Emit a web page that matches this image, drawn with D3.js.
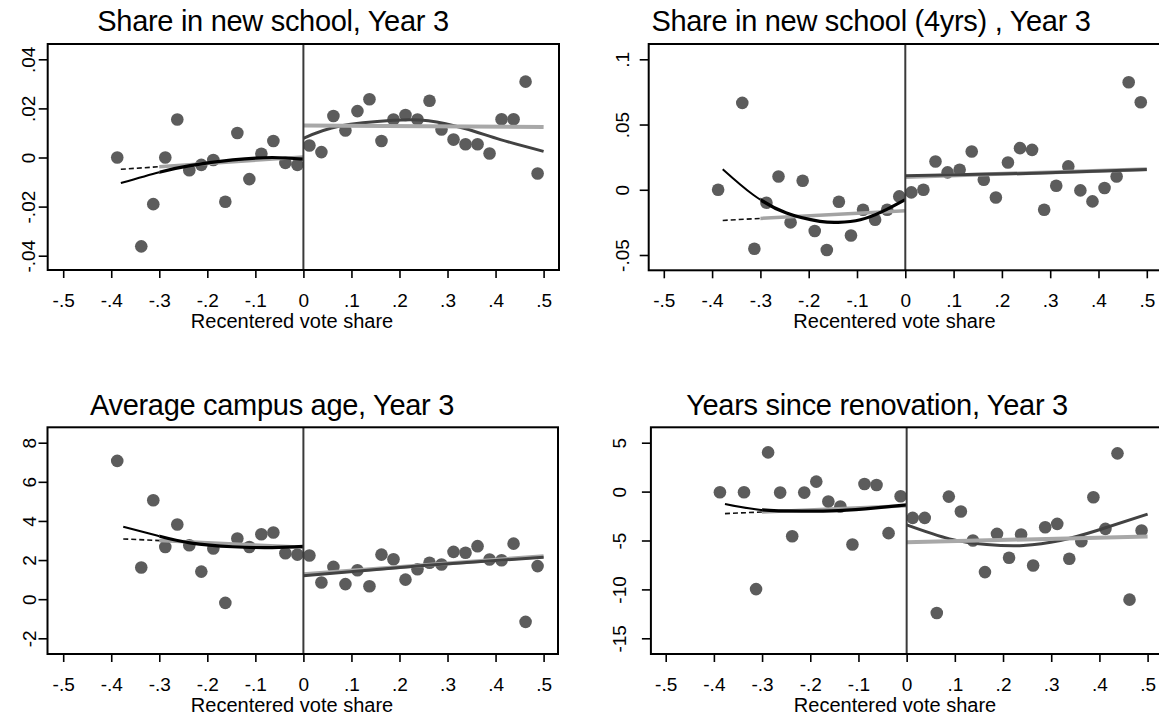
<!DOCTYPE html>
<html>
<head>
<meta charset="utf-8">
<script src="https://cdnjs.cloudflare.com/ajax/libs/d3/7.8.5/d3.min.js"></script>
<style>
body { margin: 0; background: #fff; }
svg { display: block; }
text { font-family: "Liberation Sans", Arial, sans-serif; fill: #000; }
</style>
</head>
<body>
<svg id="chart" width="1159" height="719"></svg>
<script>
// bin midpoints, same bins in every panel
const binX = [-0.3875, -0.3375, -0.3125, -0.2875, -0.2625, -0.2375, -0.2125, -0.1875, -0.1625, -0.1375, -0.1125, -0.0875, -0.0625, -0.0375, -0.0125,
  0.0125, 0.0375, 0.0625, 0.0875, 0.1125, 0.1375, 0.1625, 0.1875, 0.2125, 0.2375, 0.2625, 0.2875, 0.3125, 0.3375, 0.3625, 0.3875, 0.4125, 0.4375, 0.4625, 0.4875];
const xTicks = [-0.5, -0.4, -0.3, -0.2, -0.1, 0, 0.1, 0.2, 0.3, 0.4, 0.5];
const xTickLabels = ["-.5", "-.4", "-.3", "-.2", "-.1", "0", ".1", ".2", ".3", ".4", ".5"];
const xAxisTitle = "Recentered vote share";

// panel 1: share in new school
const newSchoolY = [0, -0.0362, -0.019, 0, 0.0155, -0.0052, -0.003, -0.001, -0.018, 0.010, -0.0088, 0.0015, 0.0067, -0.0022, -0.003,
  0.0049, 0.0022, 0.0169, 0.011, 0.0189, 0.0237, 0.0067, 0.0155, 0.0173, 0.0155, 0.0231, 0.0114, 0.0073, 0.0054, 0.0054, 0.0016, 0.0156, 0.0156, 0.0309, -0.0065];
const newSchoolTicks = [-0.04, -0.02, 0, 0.02, 0.04];
const newSchoolTickLabels = ["-.04", "-.02", "0", ".02", ".04"];
const newSchoolQuadLX = [-0.38, -0.3, -0.236, -0.147, -0.065, 0];
const newSchoolQuadLY = [-0.0104, -0.006, -0.0033, -0.001, 0.0, -0.0007];
const newSchoolLinLX = [-0.38, 0];
const newSchoolLinLY = [-0.0048, 0.0002];
const newSchoolQuadRX = [0, 0.076, 0.187, 0.26, 0.336, 0.41, 0.5];
const newSchoolQuadRY = [0.0078, 0.0128, 0.0152, 0.015, 0.0118, 0.0073, 0.0025];
const newSchoolLinRX = [0, 0.5];
const newSchoolLinRY = [0.013, 0.0124];

// panel 2: share in new school (4yrs)
const newSchool4Y = [0, 0.0666, -0.0452, -0.010, 0.0102, -0.025, 0.0069, -0.0316, -0.0462, -0.0092, -0.035, -0.0153, -0.023, -0.0153, -0.0051,
  -0.002, 0, 0.0217, 0.0133, 0.0153, 0.0293, 0.0077, -0.0059, 0.0209, 0.0319, 0.0306, -0.0153, 0.0031, 0.0179, -0.0005, -0.0089, 0.0013, 0.0102, 0.0824, 0.0671];
const newSchool4Ticks = [-0.05, 0, 0.05, 0.1];
const newSchool4TickLabels = ["-.05", "0", ".05", ".1"];
const newSchool4QuadLX = [-0.378, -0.315, -0.246, -0.177, -0.139, -0.093, -0.047, 0];
const newSchool4QuadLY = [0.0158, -0.0038, -0.0179, -0.0242, -0.025, -0.023, -0.0166, -0.0075];
const newSchool4LinLX = [-0.378, 0];
const newSchool4LinLY = [-0.0235, -0.016];
const newSchool4QuadRX = [0, 0.25, 0.5];
const newSchool4QuadRY = [0.0108, 0.0125, 0.0155];
const newSchool4LinRX = [0, 0.5];
const newSchool4LinRY = [0.0098, 0.0158];

// panel 3: average campus age
const campusAgeY = [7.07, 1.62, 5.06, 2.67, 3.82, 2.76, 1.41, 2.59, -0.19, 3.10, 2.67, 3.32, 3.41, 2.35, 2.28,
  2.23, 0.85, 1.65, 0.77, 1.48, 0.66, 2.28, 2.04, 1.0, 1.53, 1.86, 1.77, 2.42, 2.37, 2.71, 2.03, 1.99, 2.84, -1.16, 1.69];
const campusAgeTicks = [-2, 0, 2, 4, 6, 8];
const campusAgeTickLabels = ["-2", "0", "2", "4", "6", "8"];
const campusAgeQuadLX = [-0.375, -0.303, -0.236, -0.147, -0.065, 0];
const campusAgeQuadLY = [3.7, 3.24, 2.88, 2.68, 2.64, 2.7];
const campusAgeLinLX = [-0.375, 0];
const campusAgeLinLY = [3.08, 2.66];
const campusAgeQuadRX = [0, 0.25, 0.5];
const campusAgeQuadRY = [1.2, 1.72, 2.14];
const campusAgeLinRX = [0, 0.5];
const campusAgeLinRY = [1.28, 2.2];

// panel 4: years since renovation
const renovationY = [-0.07, -0.07, -9.97, 4.01, -0.1, -4.56, -0.1, 1.02, -1.02, -1.53, -5.41, 0.78, 0.68, -4.25, -0.48,
  -2.69, -2.69, -12.41, -0.51, -2.04, -5.0, -8.23, -4.32, -6.77, -4.39, -7.55, -3.64, -3.30, -6.87, -5.07, -0.58, -3.81, 3.91, -11.05, -3.98];
const renovationTicks = [-15, -10, -5, 0, 5];
const renovationTickLabels = ["-15", "-10", "-5", "0", "5"];
const renovationQuadLX = [-0.377, -0.302, -0.218, -0.141, -0.064, 0];
const renovationQuadLY = [-1.26, -1.87, -2.0, -1.94, -1.67, -1.36];
const renovationLinLX = [-0.377, 0];
const renovationLinLY = [-2.25, -1.45];
const renovationQuadRX = [0, 0.089, 0.166, 0.242, 0.319, 0.395, 0.5];
const renovationQuadRY = [-3.4, -4.83, -5.41, -5.51, -5.0, -3.98, -2.3];
const renovationLinRX = [0, 0.5];
const renovationLinRY = [-5.17, -4.6];

const panels = [
  { title: "Share in new school, Year 3", y: newSchoolY, ticks: newSchoolTicks, tickLabels: newSchoolTickLabels,
    quadL: [newSchoolQuadLX, newSchoolQuadLY], linL: [newSchoolLinLX, newSchoolLinLY],
    quadR: [newSchoolQuadRX, newSchoolQuadRY], linR: [newSchoolLinRX, newSchoolLinRY], linOnTop: true,
    x0: 63.2, x1: 543.6, boxL: 47.7, boxR: 559, boxT: 44, boxB: 270, yTop: 59.3, yBot: 255.7,
    titleX: 273, titleY: 31, axisTitleX: 292, yLabX: 35 },
  { title: "Share in new school (4yrs) , Year 3", y: newSchool4Y, ticks: newSchool4Ticks, tickLabels: newSchool4TickLabels,
    quadL: [newSchool4QuadLX, newSchool4QuadLY], linL: [newSchool4LinLX, newSchool4LinLY],
    quadR: [newSchool4QuadRX, newSchool4QuadRY], linR: [newSchool4LinRX, newSchool4LinRY], linOnTop: false,
    x0: 663.8, x1: 1146.8, boxL: 648.7, boxR: 1163, boxT: 44, boxB: 270.3, yTop: 59.3, yBot: 255,
    titleX: 871, titleY: 31, axisTitleX: 894.5, yLabX: 629 },
  { title: "Average campus age, Year 3", y: campusAgeY, ticks: campusAgeTicks, tickLabels: campusAgeTickLabels,
    quadL: [campusAgeQuadLX, campusAgeQuadLY], linL: [campusAgeLinLX, campusAgeLinLY],
    quadR: [campusAgeQuadRX, campusAgeQuadRY], linR: [campusAgeLinRX, campusAgeLinRY], linOnTop: false,
    x0: 63.2, x1: 543.6, boxL: 47.5, boxR: 558, boxT: 427.3, boxB: 654, yTop: 442.7, yBot: 638.3,
    titleX: 272, titleY: 415, axisTitleX: 292, yLabX: 35.5 },
  { title: "Years since renovation, Year 3", y: renovationY, ticks: renovationTicks, tickLabels: renovationTickLabels,
    quadL: [renovationQuadLX, renovationQuadLY], linL: [renovationLinLX, renovationLinLY],
    quadR: [renovationQuadRX, renovationQuadRY], linR: [renovationLinRX, renovationLinRY], linOnTop: true,
    x0: 665.7, x1: 1147.6, boxL: 650.9, boxR: 1165, boxT: 427.3, boxB: 654, yTop: 442.7, yBot: 638.3,
    titleX: 877, titleY: 415, axisTitleX: 895, yLabX: 626 }
];

const svg = d3.select("#chart");
const defs = svg.append("defs");

panels.forEach(function(p, i) {
  const x = d3.scaleLinear().domain([-0.5, 0.5]).range([p.x0, p.x1]);
  const y = d3.scaleLinear().domain([p.ticks[0], p.ticks[p.ticks.length - 1]]).range([p.yBot, p.yTop]);
  const g = svg.append("g");

  // clip regions: far-left part vs. rest of the left side
  const split = x(-0.3);
  defs.append("clipPath").attr("id", "farL" + i).append("rect")
    .attr("x", p.boxL).attr("y", p.boxT).attr("width", split - p.boxL).attr("height", p.boxB - p.boxT);
  defs.append("clipPath").attr("id", "nearL" + i).append("rect")
    .attr("x", split).attr("y", p.boxT).attr("width", x(0) + 4 - split).attr("height", p.boxB - p.boxT);

  const line = d3.line().x(d => x(d[0])).y(d => y(d[1])).curve(d3.curveNatural);
  const pts = arr => arr[0].map((v, k) => [v, arr[1][k]]);

  // title
  g.append("text").attr("x", p.titleX).attr("y", p.titleY)
    .attr("text-anchor", "middle").style("font-size", "29px").style("letter-spacing", "-0.3px").text(p.title);

  // scatter
  g.append("g").selectAll("circle").data(p.y).join("circle")
    .attr("cx", (d, k) => x(binX[k])).attr("cy", d => y(d))
    .attr("r", 6.3).attr("fill", "#5c5c5c");

  // left side fits
  g.append("path").datum(pts(p.linL)).attr("d", line)
    .attr("clip-path", "url(#nearL" + i + ")")
    .attr("fill", "none").attr("stroke", "#a3a3a3").attr("stroke-width", 3.5);
  g.append("path").datum(pts(p.linL)).attr("d", line)
    .attr("clip-path", "url(#farL" + i + ")")
    .attr("fill", "none").attr("stroke", "#111").attr("stroke-width", 1.6)
    .attr("stroke-dasharray", "5,3");
  g.append("path").datum(pts(p.quadL)).attr("d", line)
    .attr("clip-path", "url(#farL" + i + ")")
    .attr("fill", "none").attr("stroke", "#000").attr("stroke-width", 2);
  g.append("path").datum(pts(p.quadL)).attr("d", line)
    .attr("clip-path", "url(#nearL" + i + ")")
    .attr("fill", "none").attr("stroke", "#000").attr("stroke-width", 3.2);

  // right side fits
  const drawLin = () => g.append("path").datum(pts(p.linR)).attr("d", line)
    .attr("fill", "none").attr("stroke", "#a8a8a8").attr("stroke-width", 4);
  const drawQuad = () => g.append("path").datum(pts(p.quadR)).attr("d", line)
    .attr("fill", "none").attr("stroke", "#424242").attr("stroke-width", 3);
  if (p.linOnTop) { drawQuad(); drawLin(); } else { drawLin(); drawQuad(); }

  // cutoff line
  g.append("line").attr("x1", x(0)).attr("x2", x(0)).attr("y1", p.boxT).attr("y2", p.boxB)
    .attr("stroke", "#3a3a3a").attr("stroke-width", 2);

  // plot box
  g.append("rect").attr("x", p.boxL).attr("y", p.boxT)
    .attr("width", p.boxR - p.boxL).attr("height", p.boxB - p.boxT)
    .attr("fill", "none").attr("stroke", "#000").attr("stroke-width", 2);

  // x axis
  const xa = g.append("g").attr("transform", "translate(0," + p.boxB + ")")
    .call(d3.axisBottom(x).tickValues(xTicks).tickFormat((d, k) => xTickLabels[k]).tickSize(8).tickSizeOuter(0));
  xa.select(".domain").remove();
  xa.selectAll("line").attr("stroke", "#000").attr("stroke-width", 1.6);
  xa.selectAll("text").attr("y", 36.5).attr("dy", null)
    .style("font-size", "19px").style("font-family", "'Liberation Sans', Arial, sans-serif").attr("fill", "#000");

  g.append("text").attr("x", p.axisTitleX).attr("y", p.boxB + 57.5)
    .attr("text-anchor", "middle").style("font-size", "20px").text(xAxisTitle);

  // y axis, rotated labels
  const ya = g.append("g").attr("transform", "translate(" + p.boxL + ",0)")
    .call(d3.axisLeft(y).tickValues(p.ticks).tickFormat((d, k) => p.tickLabels[k]).tickSize(9).tickSizeOuter(0));
  ya.select(".domain").remove();
  ya.selectAll("line").attr("stroke", "#000").attr("stroke-width", 1.6);
  ya.selectAll("text").attr("x", null).attr("dy", null)
    .attr("text-anchor", "middle")
    .attr("transform", "translate(" + (p.yLabX - p.boxL) + ",0) rotate(-90)")
    .style("font-size", "19px").style("font-family", "'Liberation Sans', Arial, sans-serif").attr("fill", "#000");
});
</script>
</body>
</html>
